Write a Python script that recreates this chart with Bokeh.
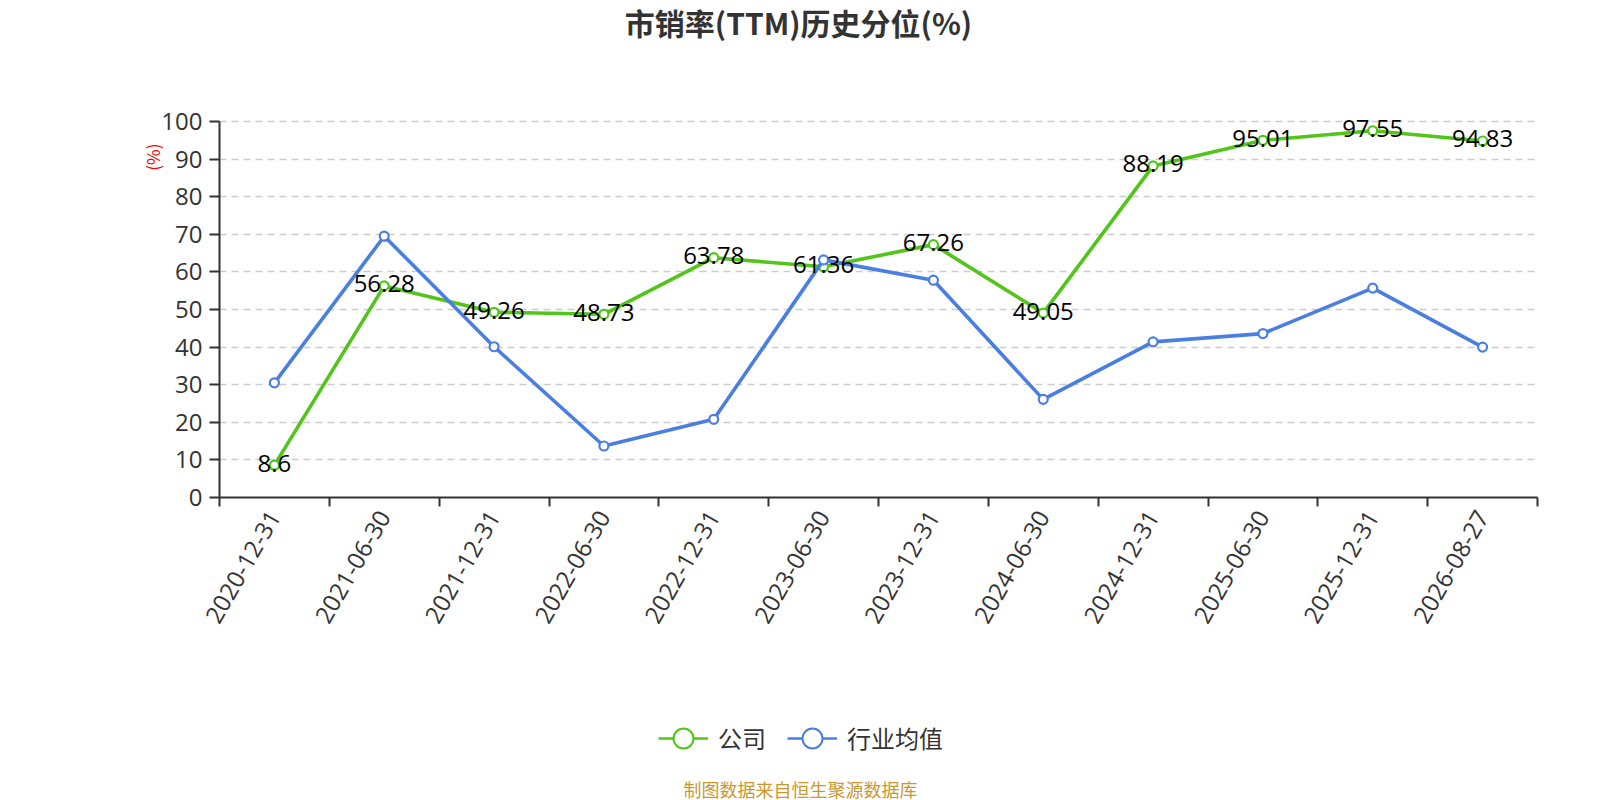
import math
from bokeh.plotting import figure
from bokeh.layouts import column
from bokeh.models import (ColumnDataSource, FixedTicker, Label, LabelSet, Legend,
                          LegendItem, Range1d, Title)
from bokeh.core.properties import value
from bokeh.embed import file_html
from bokeh.resources import INLINE

categories = ["2020-12-31", "2021-06-30", "2021-12-31", "2022-06-30", "2022-12-31",
              "2023-06-30", "2023-12-31", "2024-06-30", "2024-12-31", "2025-06-30",
              "2025-12-31", "2026-08-27"]
company = [8.6, 56.28, 49.26, 48.73, 63.78, 61.36, 67.26, 49.05, 88.19, 95.01, 97.55, 94.83]
industry = [30.5, 69.5, 40.1, 13.7, 20.8, 63.2, 57.8, 26.1, 41.4, 43.6, 55.7, 40.0]
y_ticks = [0, 10, 20, 30, 40, 50, 60, 70, 80, 90, 100]

TITLE = "市销率(TTM)历史分位(%)"
FOOTER = "制图数据来自恒生聚源数据库"
SERIES_NAMES = ["公司", "行业均值"]
Y_UNIT = "(%)"

CJK = "Noto Sans CJK SC"
NUM = "Open Sans"
GREEN = "#52c41a"
BLUE = "#4a7fe1"
AXIS = "#333333"

W = 1600
LEFT = 219
FRAME_W = 1318
RIGHT = W - LEFT - FRAME_W
TOP_H = 70
MAIN_H = 575
BOT_H = 155
NAN = float("nan")

n = len(categories)
xs = [i + 0.5 for i in range(n)]
src = ColumnDataSource(dict(x=xs, company=company, industry=industry,
                            label=[str(v) for v in company]))


def strip(h):
    # same horizontal geometry as the main chart; data x == page x
    f = figure(frame_width=FRAME_W, frame_height=h,
               min_border_left=LEFT, min_border_right=RIGHT,
               min_border_top=0, min_border_bottom=0,
               x_range=Range1d(LEFT, LEFT + FRAME_W), y_range=Range1d(0, h),
               x_axis_location=None, y_axis_location=None,
               output_backend="svg", toolbar_location=None)
    f.outline_line_color = None
    for g in f.grid:
        g.visible = False
    return f


# ---- title strip
top = strip(TOP_H)
top.add_layout(Label(x=798, y=TOP_H - 21.5, text=TITLE,
                     text_align="center", text_baseline="middle",
                     text_font=CJK, text_font_size="30px",
                     text_font_style="bold", text_color="#333333"))

# ---- main chart
p = figure(frame_width=FRAME_W, frame_height=391,
           min_border_left=LEFT, min_border_right=RIGHT,
           min_border_top=36, min_border_bottom=MAIN_H - 36 - 391,
           x_range=Range1d(0, n), y_range=Range1d(0, 104),
           output_backend="svg", toolbar_location=None)
p.outline_line_color = None

xa = p.xaxis[0]
xa.ticker = FixedTicker(ticks=xs, minor_ticks=list(range(n + 1)))
xa.major_label_overrides = {x: c for x, c in zip(xs, categories)}
xa.major_label_orientation = math.pi / 3
xa.major_tick_line_color = None
xa.major_tick_out = 9
xa.major_tick_in = 0
xa.minor_tick_out = 9
xa.minor_tick_in = 0
xa.minor_tick_line_color = AXIS
xa.minor_tick_line_width = 2
xa.axis_line_color = AXIS
xa.axis_line_width = 2
xa.major_label_text_font = NUM
xa.major_label_text_font_size = "24px"
xa.major_label_text_color = AXIS
xa.major_label_standoff = 6

ya = p.yaxis[0]
ya.ticker = FixedTicker(ticks=y_ticks, minor_ticks=[])
ya.bounds = (0, 100)
ya.major_tick_out = 10
ya.major_tick_in = 0
ya.major_tick_line_color = AXIS
ya.major_tick_line_width = 2
ya.axis_line_color = AXIS
ya.axis_line_width = 2
ya.major_label_text_font = NUM
ya.major_label_text_font_size = "24px"
ya.major_label_text_color = AXIS
ya.major_label_standoff = 7

p.xgrid.grid_line_color = None
p.ygrid.ticker = FixedTicker(ticks=y_ticks[1:])
p.ygrid.grid_line_color = "#cccccc"
p.ygrid.grid_line_width = 1.5
p.ygrid.grid_line_dash = "7 5"

p.add_layout(Title(text=Y_UNIT, align="right", offset=37, standoff=-12,
                   text_font=CJK, text_font_size="17px", text_font_style="normal",
                   text_color="#ff0000"), "left")

p.line("x", "company", source=src, line_color=GREEN, line_width=3.6)
p.scatter("x", "company", source=src, size=9, fill_color="white",
          line_color=GREEN, line_width=2.2)
p.line("x", "industry", source=src, line_color=BLUE, line_width=3.6)
p.scatter("x", "industry", source=src, size=9, fill_color="white",
          line_color=BLUE, line_width=2.2)

p.add_layout(LabelSet(x="x", y="company", text="label", source=src,
                      text_align="center", text_baseline="middle", y_offset=2,
                      text_font=value(NUM), text_font_size="24px",
                      text_color="#000000"))

# ---- legend + footer strip (legend proxies hold no visible points)
bot = strip(BOT_H)
gl = bot.line(x=[NAN], y=[NAN], line_color=GREEN, line_width=2.5)
gs = bot.scatter(x=[NAN], y=[NAN], fill_color="white", line_color=GREEN, line_width=2)
bl = bot.line(x=[NAN], y=[NAN], line_color=BLUE, line_width=2.5)
bs = bot.scatter(x=[NAN], y=[NAN], fill_color="white", line_color=BLUE, line_width=2)
legend = Legend(items=[LegendItem(label=SERIES_NAMES[0], renderers=[gl, gs]),
                       LegendItem(label=SERIES_NAMES[1], renderers=[bl, bs])],
                orientation="horizontal", location=(658 - LEFT, 36.5),
                glyph_width=50, glyph_height=52, label_standoff=10, spacing=21,
                padding=0, margin=0, border_line_color=None,
                background_fill_alpha=0,
                label_text_font=CJK, label_text_font_size="24px",
                label_text_color="#333333", label_text_baseline="middle")
bot.add_layout(legend, "center")
bot.add_layout(Label(x=800, y=12, text=FOOTER,
                     text_align="center", text_baseline="middle",
                     text_font=CJK, text_font_size="18px", text_color="#c9982e"))

layout = column(top, p, bot, spacing=0)
open("out.html", "w").write(file_html(layout, INLINE))
